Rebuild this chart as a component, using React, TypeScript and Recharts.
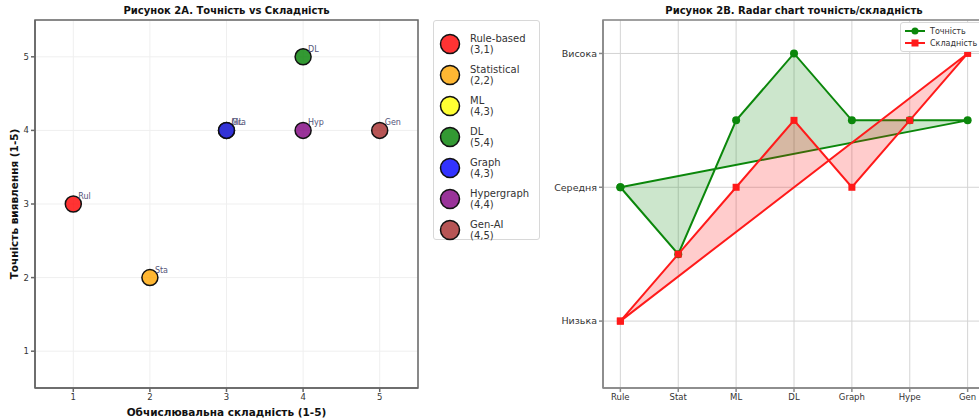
import { ScatterChart, Scatter, ComposedChart, Area, XAxis, YAxis, CartesianGrid, Legend, Label, ReferenceArea } from "recharts";

// Рисунок 2A: точність vs складність
const methods = ["Rule-based", "Statistical", "ML", "DL", "Graph", "Hypergraph", "Gen-AI"];
const accuracy = [3, 2, 4, 5, 4, 4, 4];
const complexity = [1, 2, 3, 4, 3, 4, 5];
const methodColors = ["#ff0000", "#ffa500", "#ffff00", "#008000", "#0000ff", "#800080", "#a52a2a"];
const scoreTicks = [1, 2, 3, 4, 5];
const scoreDomain = [0.5, 5.5];

// Рисунок 2B: "radar" по категоріях
const radarLabels = ["Rule", "Stat", "ML", "DL", "Graph", "Hype", "Gen"];
const radarAccuracy = [2, 1.5, 2.5, 3, 2.5, 2.5, 2.5];
const radarComplexity = [1, 1.5, 2, 2.5, 2, 2.5, 3];
const levelTicks = [1, 2, 3];
const levelNames = ["Низька", "Середня", "Висока"];
const radarXDomain = [-0.3, 6.3];
const radarYDomain = [0.5, 3.25];

const FONT = "'DejaVu Sans', sans-serif";

const radarRows = radarLabels.map((_, i) => ({ x: i, acc: radarAccuracy[i], cmp: radarComplexity[i] }));
radarRows.push({ ...radarRows[0] }); // замкнути контур

const radarTicks = radarLabels.map((_, i) => i);

function LeftLegend() {
  return (
    <div
      style={{
        width: 107,
        height: 220,
        boxSizing: "border-box",
        border: "1px solid #d8d8d8",
        borderRadius: 3,
        background: "#fff",
        padding: "7px 0 0 5px",
        fontFamily: FONT,
      }}
    >
      {methods.map((m, i) => (
        <div key={m} style={{ display: "flex", alignItems: "center", height: 31 }}>
          <svg width={22} height={22} style={{ flex: "none" }}>
            <circle cx={11} cy={11} r={9.5} fill={methodColors[i]} fillOpacity={0.8} stroke="#111" strokeWidth={1.5} />
          </svg>
          <div style={{ marginLeft: 9, fontSize: 10, lineHeight: "11px", color: "#333" }}>
            {m}
            <br />({accuracy[i]},{complexity[i]})
          </div>
        </div>
      ))}
    </div>
  );
}

function RightLegend() {
  const items = [
    { name: "Точність", color: "#0b870b", square: false },
    { name: "Складність", color: "#ff1a1a", square: true },
  ];
  return (
    <div
      style={{
        width: 100,
        boxSizing: "border-box",
        border: "1px solid #d8d8d8",
        borderRadius: 3,
        background: "#fff",
        padding: "2px 0 2px 3px",
        fontFamily: FONT,
      }}
    >
      {items.map((it) => (
        <div key={it.name} style={{ display: "flex", alignItems: "center", height: 12 }}>
          <svg width={22} height={10} style={{ flex: "none" }}>
            <line x1={1} y1={5} x2={21} y2={5} stroke={it.color} strokeWidth={2} />
            {it.square ? (
              <rect x={7.5} y={1.5} width={7} height={7} fill={it.color} />
            ) : (
              <circle cx={11} cy={5} r={3.5} fill={it.color} />
            )}
          </svg>
          <span style={{ marginLeft: 4, fontSize: 8, color: "#333" }}>{it.name}</span>
        </div>
      ))}
    </div>
  );
}

const titleStyle = {
  position: "absolute" as const,
  top: 5,
  fontFamily: FONT,
  fontWeight: "bold" as const,
  fontSize: 10,
  color: "#111",
  textAlign: "center" as const,
  whiteSpace: "nowrap" as const,
};

export default function App() {
  return (
    <div style={{ position: "absolute", left: 0, top: 0, width: 979, height: 420, overflow: "hidden", background: "#fff", fontFamily: FONT }}>
      <div style={{ ...titleStyle, left: 35, width: 383 }}>Рисунок 2A. Точність vs Складність</div>
      <div style={{ ...titleStyle, left: 603, width: 382 }}>Рисунок 2B. Radar chart точність/складність</div>

      <div style={{ position: "absolute", left: 0, top: 0 }}>
        <ScatterChart width={545} height={420} margin={{ top: 20, right: 127, bottom: 0, left: 0 }}>
          <CartesianGrid stroke="#efefef" />
          <XAxis
            type="number"
            dataKey="x"
            domain={scoreDomain}
            ticks={scoreTicks}
            height={32}
            tickSize={4}
            tickMargin={2}
            stroke="#666"
            strokeWidth={1.5}
            tick={{ fontSize: 8.5, fill: "#333", fontFamily: FONT }}
          >
            <Label value="Обчислювальна складність (1-5)" position="insideBottom" offset={4} fontSize={10.5} fontWeight="bold" fill="#111" fontFamily={FONT} />
          </XAxis>
          <YAxis
            type="number"
            dataKey="y"
            domain={scoreDomain}
            ticks={scoreTicks}
            width={35}
            tickSize={4}
            tickMargin={2}
            stroke="#666"
            strokeWidth={1.5}
            tick={{ fontSize: 8.5, fill: "#333", fontFamily: FONT }}
          >
            <Label value="Точність виявлення (1-5)" angle={-90} position="center" dx={-3.5} fontSize={10.5} fontWeight="bold" fill="#111" fontFamily={FONT} />
          </YAxis>
          {/* рамка графіка */}
          <ReferenceArea
            x1={scoreDomain[0]}
            x2={scoreDomain[1]}
            y1={scoreDomain[0]}
            y2={scoreDomain[1]}
            fill="none"
            stroke="#666"
            strokeWidth={1.5}
            ifOverflow="visible"
          />
          {methods.map((m, i) => (
            <Scatter
              key={m}
              name={m}
              data={[{ x: complexity[i], y: accuracy[i] }]}
              isAnimationActive={false}
              shape={(p: any) => (
                <g>
                  <circle cx={p.cx} cy={p.cy} r={8} fill={methodColors[i]} fillOpacity={0.8} stroke="#111" strokeWidth={1.5} />
                  <text x={p.cx + 5} y={p.cy - 5} fontSize={8} fill="#55557a" fontFamily={FONT}>
                    {m.slice(0, 3)}
                  </text>
                </g>
              )}
            />
          ))}
          <Legend layout="vertical" align="center" verticalAlign="middle" wrapperStyle={{ left: 433, top: 20 }} content={() => <LeftLegend />} />
        </ScatterChart>
      </div>

      <div style={{ position: "absolute", left: 540, top: 0 }}>
        <ComposedChart width={460} height={420} data={radarRows} margin={{ top: 20, right: 15, bottom: 0, left: 3 }}>
          <CartesianGrid stroke="#d4d4d4" />
          <XAxis
            type="number"
            dataKey="x"
            domain={radarXDomain}
            ticks={radarTicks}
            tickFormatter={(v: number) => radarLabels[v]}
            height={32}
            tickSize={4}
            tickMargin={2}
            stroke="#888"
            strokeWidth={1.5}
            tick={{ fontSize: 8.5, fill: "#333", fontFamily: FONT }}
          />
          <YAxis
            type="number"
            domain={radarYDomain}
            ticks={levelTicks}
            tickFormatter={(v: number) => levelNames[levelTicks.indexOf(v)]}
            width={60}
            tickSize={4}
            tickMargin={2}
            stroke="#888"
            strokeWidth={1.5}
            tick={{ fontSize: 9.5, fill: "#333", fontFamily: FONT }}
          />
          <ReferenceArea
            x1={radarXDomain[0]}
            x2={radarXDomain[1]}
            y1={radarYDomain[0]}
            y2={radarYDomain[1]}
            fill="none"
            stroke="#888"
            strokeWidth={1.5}
            ifOverflow="visible"
          />
          <Area
            type="linear"
            dataKey="acc"
            name="Точність"
            stroke="#0b870b"
            strokeWidth={2}
            fill="#008000"
            fillOpacity={0.2}
            dot={(p: any) => <circle key={`a${p.index}`} cx={p.cx} cy={p.cy} r={4} fill="#0b870b" />}
            activeDot={false}
            isAnimationActive={false}
          />
          <Area
            type="linear"
            dataKey="cmp"
            name="Складність"
            stroke="#ff1a1a"
            strokeWidth={2}
            fill="#ff0000"
            fillOpacity={0.2}
            dot={(p: any) => <rect key={`c${p.index}`} x={p.cx - 3.5} y={p.cy - 3.5} width={7} height={7} fill="#ff1a1a" />}
            activeDot={false}
            isAnimationActive={false}
          />
          <Legend layout="vertical" align="center" verticalAlign="middle" wrapperStyle={{ left: 360, top: 22 }} content={() => <RightLegend />} />
        </ComposedChart>
      </div>
    </div>
  );
}
